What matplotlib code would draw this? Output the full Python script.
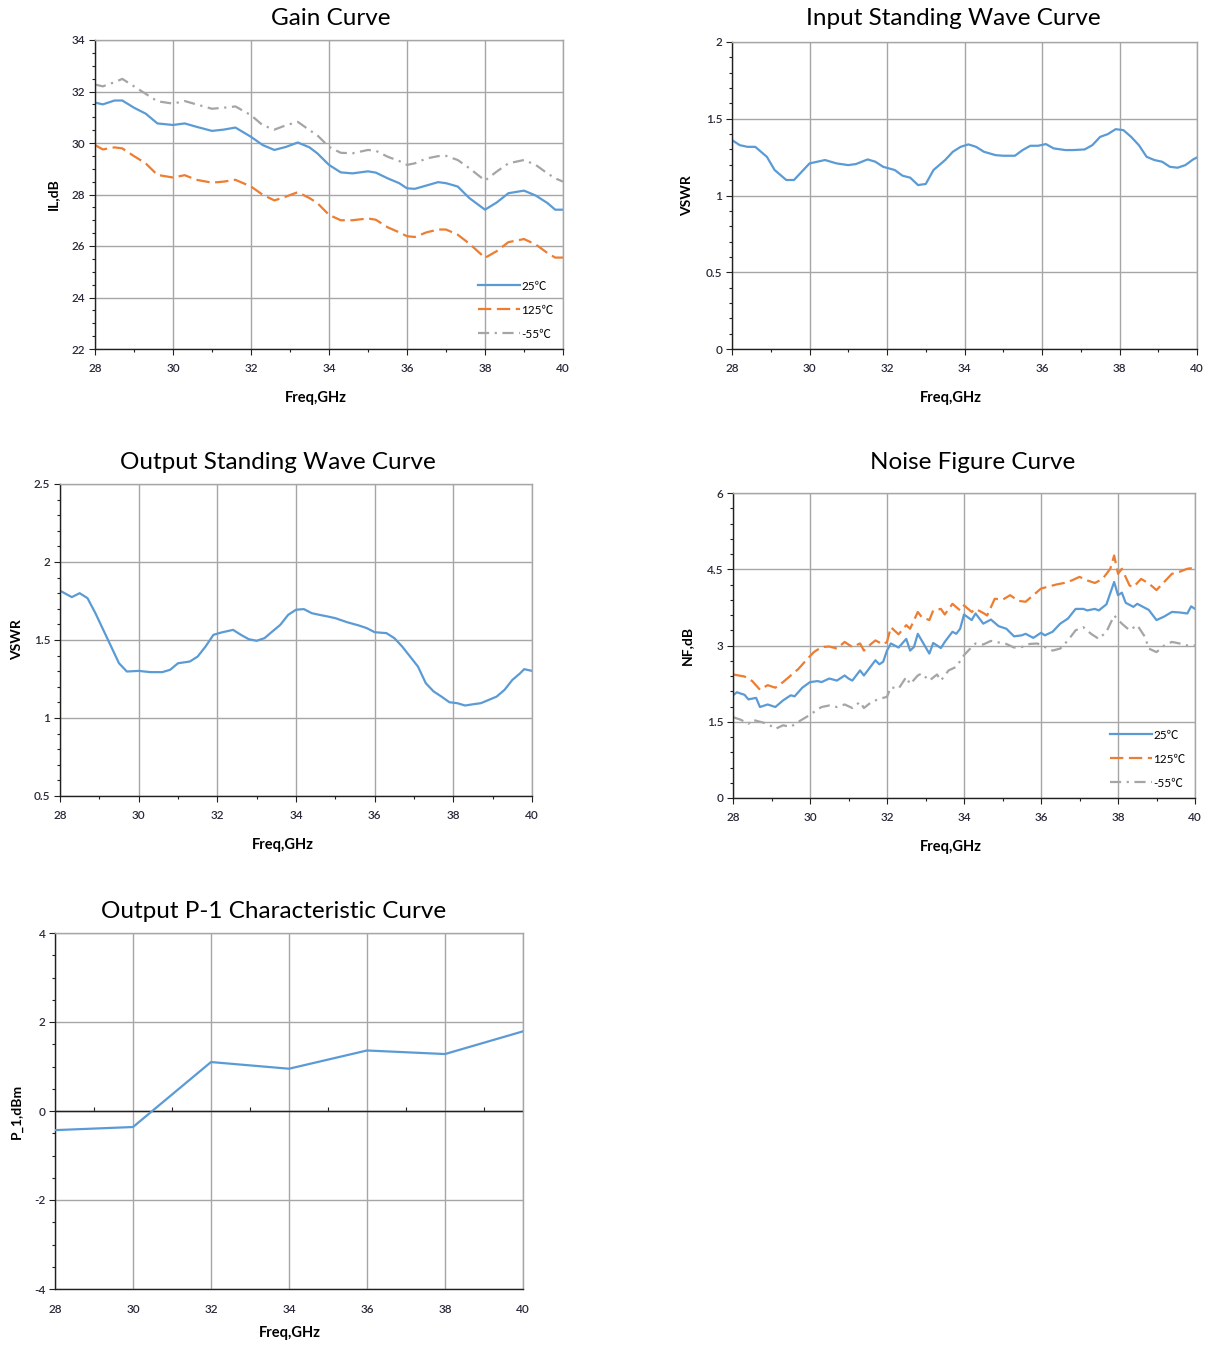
import matplotlib
matplotlib.use("Agg")
import matplotlib.pyplot as plt
from matplotlib.ticker import MultipleLocator, FormatStrFormatter, NullFormatter

plt.rcParams['font.family'] = ['Lato', 'Noto Sans CJK SC', 'DejaVu Sans']

BLUE = '#5B9BD5'
ORANGE = '#ED7D31'
GRAY = '#A5A5A5'
GRID = '#A6A6A6'
TICK_TXT = '#2A2A3A'

# ---- Gain curve ----
gain_freq = [28.0, 28.2, 28.5, 28.7, 29.0, 29.3, 29.6, 30.0, 30.3, 30.6, 31.0, 31.3, 31.6,
             32.0, 32.3, 32.6, 32.9, 33.2, 33.5, 33.7, 34.0, 34.3, 34.6, 35.0, 35.2, 35.5,
             35.8, 36.0, 36.2, 36.5, 36.8, 37.0, 37.3, 37.6, 38.0, 38.3, 38.6, 39.0, 39.3,
             39.6, 39.8, 40.0]
gain_25 = [31.57, 31.5, 31.65, 31.65, 31.37, 31.14, 30.76, 30.7, 30.76, 30.63, 30.47, 30.52, 30.6,
           30.24, 29.92, 29.73, 29.85, 30.02, 29.83, 29.6, 29.15, 28.86, 28.82, 28.9, 28.85, 28.63,
           28.44, 28.24, 28.22, 28.35, 28.48, 28.44, 28.31, 27.86, 27.41, 27.69, 28.05, 28.15, 27.96,
           27.67, 27.41, 27.41]
gain_125 = [29.92, 29.75, 29.83, 29.79, 29.49, 29.21, 28.76, 28.66, 28.75, 28.57, 28.46, 28.5, 28.57,
            28.31, 27.99, 27.77, 27.92, 28.09, 27.86, 27.67, 27.21, 27.0, 27.0, 27.07, 27.02, 26.73,
            26.53, 26.38, 26.35, 26.53, 26.64, 26.64, 26.44, 26.09, 25.54, 25.8, 26.15, 26.27, 26.06,
            25.73, 25.55, 25.55]
gain_m55 = [32.27, 32.2, 32.36, 32.49, 32.2, 31.91, 31.62, 31.53, 31.63, 31.5, 31.33, 31.37, 31.42,
            31.08, 30.69, 30.52, 30.69, 30.82, 30.5, 30.3, 29.85, 29.62, 29.6, 29.73, 29.7, 29.47,
            29.3, 29.15, 29.21, 29.4, 29.49, 29.5, 29.34, 29.02, 28.54, 28.89, 29.21, 29.34, 29.15,
            28.82, 28.63, 28.5]

# ---- Input standing wave ----
in_freq = [28.0, 28.2, 28.4, 28.6, 28.9, 29.1, 29.4, 29.6, 29.8, 30.0, 30.2, 30.4, 30.7, 31.0,
           31.2, 31.5, 31.7, 31.9, 32.2, 32.4, 32.6, 32.8, 33.0, 33.2, 33.5, 33.7, 33.9, 34.1,
           34.3, 34.5, 34.8, 35.0, 35.3, 35.5, 35.7, 35.9, 36.1, 36.3, 36.6, 36.8, 37.1, 37.3,
           37.5, 37.7, 37.9, 38.1, 38.3, 38.5, 38.7, 38.9, 39.1, 39.3, 39.5, 39.7, 39.9, 40.0]
in_vswr = [1.361, 1.328, 1.317, 1.317, 1.252, 1.166, 1.101, 1.101, 1.155, 1.209, 1.22, 1.231, 1.209,
           1.198, 1.205, 1.235, 1.22, 1.187, 1.166, 1.129, 1.116, 1.068, 1.075, 1.166, 1.231, 1.285,
           1.317, 1.333, 1.317, 1.285, 1.263, 1.259, 1.259, 1.296, 1.324, 1.324, 1.335, 1.307, 1.296,
           1.296, 1.3, 1.328, 1.382, 1.4, 1.432, 1.426, 1.382, 1.328, 1.252, 1.231, 1.22, 1.187,
           1.181, 1.198, 1.235, 1.248]

# ---- Output standing wave ----
out_freq = [28.0, 28.3, 28.5, 28.7, 28.9, 29.1, 29.3, 29.5, 29.7, 30.0, 30.3, 30.6, 30.8, 31.0,
            31.3, 31.5, 31.7, 31.9, 32.1, 32.4, 32.6, 32.8, 33.0, 33.2, 33.4, 33.6, 33.8, 34.0,
            34.2, 34.4, 34.6, 34.8, 35.0, 35.3, 35.6, 35.8, 36.0, 36.3, 36.5, 36.7, 36.9, 37.1,
            37.3, 37.5, 37.7, 37.9, 38.1, 38.3, 38.5, 38.7, 38.9, 39.1, 39.3, 39.5, 39.7, 39.8, 40.0]
out_vswr = [1.816, 1.775, 1.80, 1.768, 1.672, 1.565, 1.458, 1.351, 1.298, 1.302, 1.294, 1.294, 1.309,
            1.351, 1.362, 1.394, 1.458, 1.533, 1.548, 1.565, 1.533, 1.505, 1.495, 1.512, 1.555, 1.597,
            1.661, 1.694, 1.698, 1.672, 1.661, 1.651, 1.64, 1.614, 1.593, 1.576, 1.55, 1.544, 1.512,
            1.458, 1.394, 1.33, 1.223, 1.17, 1.137, 1.101, 1.095, 1.08, 1.088, 1.095, 1.116, 1.137,
            1.18, 1.244, 1.287, 1.313, 1.302]

# ---- Noise figure ----
nf25_freq = [28.0, 28.1, 28.3, 28.4, 28.6, 28.7, 28.9, 29.1, 29.3, 29.5, 29.6, 29.8, 30.0, 30.2,
             30.3, 30.5, 30.7, 30.9, 31.0, 31.1, 31.3, 31.4, 31.6, 31.7, 31.8, 31.9, 32.0, 32.1,
             32.3, 32.5, 32.6, 32.7, 32.8, 32.9, 33.1, 33.2, 33.4, 33.5, 33.7, 33.8, 33.9, 34.0,
             34.2, 34.3, 34.5, 34.7, 34.9, 35.1, 35.3, 35.5, 35.6, 35.8, 36.0, 36.1, 36.3, 36.5,
             36.7, 36.9, 37.1, 37.2, 37.4, 37.5, 37.7, 37.9, 38.0, 38.1, 38.2, 38.4, 38.5, 38.7,
             38.8, 39.0, 39.2, 39.4, 39.6, 39.8, 39.9, 40.0]
nf_25 = [2.02, 2.08, 2.03, 1.94, 1.97, 1.79, 1.84, 1.79, 1.92, 2.02, 2.0, 2.17, 2.28, 2.30,
         2.28, 2.35, 2.31, 2.41, 2.35, 2.31, 2.51, 2.41, 2.61, 2.71, 2.63, 2.68, 2.9, 3.04,
         2.96, 3.13, 2.90, 2.97, 3.23, 3.1, 2.84, 3.05, 2.95, 3.07, 3.27, 3.23, 3.33, 3.61,
         3.5, 3.63, 3.43, 3.51, 3.38, 3.33, 3.18, 3.2, 3.23, 3.15, 3.25, 3.2, 3.27, 3.43,
         3.53, 3.72, 3.72, 3.69, 3.72, 3.69, 3.81, 4.25, 3.99, 4.04, 3.84, 3.76, 3.82, 3.74,
         3.70, 3.5, 3.57, 3.66, 3.65, 3.63, 3.77, 3.72]

nf125_freq = [28.0, 28.3, 28.5, 28.7, 28.9, 29.1, 29.3, 29.5, 29.7, 29.9, 30.1, 30.3, 30.5, 30.7,
              30.9, 31.1, 31.3, 31.4, 31.6, 31.7, 31.9, 32.0, 32.1, 32.3, 32.5, 32.6, 32.8, 32.9,
              33.1, 33.2, 33.4, 33.5, 33.7, 33.9, 34.0, 34.2, 34.3, 34.5, 34.6, 34.8, 35.0, 35.2,
              35.4, 35.6, 35.8, 36.0, 36.2, 36.4, 36.6, 36.8, 37.0, 37.2, 37.4, 37.6, 37.8, 37.9,
              38.0, 38.1, 38.3, 38.4, 38.6, 38.8, 39.0, 39.2, 39.4, 39.6, 39.8, 40.0]
nf_125 = [2.43, 2.39, 2.30, 2.13, 2.22, 2.17, 2.28, 2.41, 2.54, 2.71, 2.87, 2.97, 2.98, 2.94,
          3.07, 2.97, 3.04, 2.9, 3.04, 3.1, 3.02, 3.07, 3.36, 3.22, 3.4, 3.33, 3.66, 3.56,
          3.50, 3.69, 3.72, 3.61, 3.82, 3.69, 3.79, 3.66, 3.72, 3.64, 3.59, 3.92, 3.90, 3.99,
          3.88, 3.86, 3.99, 4.12, 4.16, 4.2, 4.23, 4.28, 4.35, 4.28, 4.23, 4.31, 4.51, 4.77,
          4.41, 4.51, 4.18, 4.15, 4.31, 4.22, 4.09, 4.25, 4.41, 4.45, 4.51, 4.53]

nfm55_freq = [28.0, 28.2, 28.4, 28.5, 28.7, 28.9, 29.1, 29.3, 29.5, 29.7, 29.9, 30.1, 30.3, 30.5,
              30.7, 30.9, 31.1, 31.3, 31.4, 31.6, 31.8, 32.0, 32.1, 32.3, 32.5, 32.6, 32.8, 32.9,
              33.1, 33.3, 33.4, 33.6, 33.8, 34.0, 34.2, 34.3, 34.5, 34.7, 34.9, 35.1, 35.3, 35.5,
              35.7, 35.9, 36.1, 36.3, 36.5, 36.7, 36.9, 37.1, 37.3, 37.5, 37.7, 37.9, 38.1, 38.3,
              38.5, 38.7, 38.8, 39.0, 39.2, 39.4, 39.6, 39.8, 40.0]
nf_m55 = [1.59, 1.54, 1.46, 1.54, 1.50, 1.46, 1.36, 1.43, 1.40, 1.50, 1.59, 1.69, 1.79, 1.82,
          1.79, 1.84, 1.77, 1.89, 1.77, 1.89, 1.95, 1.99, 2.18, 2.15, 2.38, 2.24, 2.41, 2.45,
          2.31, 2.43, 2.31, 2.51, 2.58, 2.81, 2.97, 3.04, 3.02, 3.09, 3.06, 3.03, 2.96, 2.97,
          3.03, 3.04, 2.97, 2.9, 2.94, 3.1, 3.3, 3.36, 3.23, 3.13, 3.27, 3.59, 3.43, 3.30,
          3.4, 3.17, 2.94, 2.87, 3.0, 3.07, 3.04, 3.0, 3.0]

# ---- Output P-1 ----
p1_freq = [28, 30, 32, 34, 36, 38, 40]
p1_dbm = [-0.43, -0.36, 1.10, 0.95, 1.36, 1.28, 1.79]

FIG_W, FIG_H = 1210, 1347


def px_axes(fig, left, top, right, bottom):
    return fig.add_axes([left / FIG_W, 1 - bottom / FIG_H,
                         (right - left) / FIG_W, (bottom - top) / FIG_H])


def style(ax, ylim, ymajor, yminor, ylabel, title, title_x, title_pad, xlab_x, ylab_pad):
    ax.set_xlim(28, 40)
    ax.set_ylim(*ylim)
    ax.xaxis.set_major_locator(MultipleLocator(2))
    ax.xaxis.set_minor_locator(MultipleLocator(1))
    ax.yaxis.set_major_locator(MultipleLocator(ymajor))
    ax.yaxis.set_minor_locator(MultipleLocator(yminor))
    ax.yaxis.set_major_formatter(FormatStrFormatter('%g'))
    ax.grid(True, which='major', color=GRID, linewidth=1.0)
    ax.set_axisbelow(True)
    for s in ('top', 'right'):
        ax.spines[s].set_color(GRID)
        ax.spines[s].set_linewidth(1.0)
    for s in ('left', 'bottom'):
        ax.spines[s].set_color('#202020')
        ax.spines[s].set_linewidth(1.0)
    ax.tick_params(which='major', direction='out', length=4, width=0.8,
                   labelsize=8.5, labelcolor=TICK_TXT, color='#202020', pad=3)
    ax.tick_params(which='minor', direction='out', length=2.5, width=0.8, color='#202020')
    ax.tick_params(axis='x', pad=6)
    ax.set_xlabel('Freq,GHz', fontsize=10.5, fontweight='bold')
    ax.xaxis.set_label_coords(xlab_x, -0.135 * 309 / (ax.bbox.height))
    ax.set_ylabel(ylabel, fontsize=10, fontweight='bold', labelpad=ylab_pad)
    ax.set_title(title, fontsize=17.5, x=title_x, pad=title_pad)


def temp_legend(ax):
    leg = ax.legend(loc='lower right', frameon=False, fontsize=8.5, handlelength=3.6,
                    handletextpad=0.1, labelspacing=1.1, borderaxespad=0.4)
    return leg


fig = plt.figure(figsize=(FIG_W / 100, FIG_H / 100), dpi=100)

# Gain
ax1 = px_axes(fig, 95, 40, 563, 349)
ax1.plot(gain_freq, gain_25, color=BLUE, lw=1.6, label='25℃')
ax1.plot(gain_freq, gain_125, color=ORANGE, lw=1.6, dashes=(6, 2.5), label='125℃')
ax1.plot(gain_freq, gain_m55, color=GRAY, lw=1.6, dashes=(5, 2.5, 1, 2.5), label='-55℃')
style(ax1, (22, 34), 2, 0.5, 'IL,dB', 'Gain Curve', 0.504, 11, 0.472, 9)
temp_legend(ax1)

# Input standing wave
ax2 = px_axes(fig, 732, 42, 1197, 349)
ax2.plot(in_freq, in_vswr, color=BLUE, lw=1.6)
style(ax2, (0, 2), 0.5, 0.1, 'VSWR', 'Input Standing Wave Curve', 0.475, 12, 0.471, 9)

# Output standing wave
ax3 = px_axes(fig, 60, 484, 532, 796)
ax3.plot(out_freq, out_vswr, color=BLUE, lw=1.6)
style(ax3, (0.5, 2.5), 0.5, 0.1, 'VSWR', 'Output Standing Wave Curve', 0.462, 11, 0.472, 8)

# Noise figure
ax4 = px_axes(fig, 733, 493, 1195, 798)
ax4.plot(nf25_freq, nf_25, color=BLUE, lw=1.6, label='25℃')
ax4.plot(nf125_freq, nf_125, color=ORANGE, lw=1.6, dashes=(6, 2.5), label='125℃')
ax4.plot(nfm55_freq, nf_m55, color=GRAY, lw=1.6, dashes=(5, 2.5, 1, 2.5), label='-55℃')
style(ax4, (0, 6), 1.5, 0.3, 'NF,dB', 'Noise Figure Curve', 0.519, 17, 0.472, 10)
temp_legend(ax4)

# Output P-1
ax5 = px_axes(fig, 55, 933, 523, 1289)
ax5.axhline(0, color='#202020', lw=1.0, zorder=1.5)
ax5.plot(p1_freq, p1_dbm, color=BLUE, lw=1.6, zorder=3)
style(ax5, (-4, 4), 2, 0.5, 'P_1,dBm', 'Output P-1 Characteristic Curve', 0.468, 11, 0.502, 8)
ax5.tick_params(axis='x', which='both', length=0, pad=11)
ax5.xaxis.set_label_coords(0.502, -0.105)
zero_ax = ax5.secondary_xaxis(0.5)
zero_ax.xaxis.set_major_locator(MultipleLocator(2))
zero_ax.xaxis.set_minor_locator(MultipleLocator(1))
zero_ax.xaxis.set_major_formatter(NullFormatter())
zero_ax.tick_params(which='both', direction='out', labelbottom=False, labeltop=False)
zero_ax.tick_params(which='major', length=0)
zero_ax.tick_params(which='minor', length=3, width=0.8, color='#202020')
zero_ax.spines['bottom'].set_color('#202020')
zero_ax.spines['top'].set_color('#202020')

# semi-bold tick labels like the original chart
fig.canvas.draw()
for ax in (ax1, ax2, ax3, ax4, ax5):
    for lab in ax.get_xticklabels() + ax.get_yticklabels():
        lab.set_fontweight('semibold')

fig.savefig('out.png', dpi=100)
